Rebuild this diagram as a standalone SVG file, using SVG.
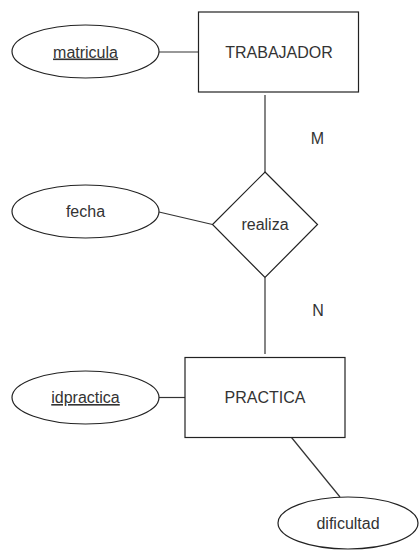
<svg xmlns="http://www.w3.org/2000/svg" width="420" height="550" viewBox="0 0 420 550">
<style>
.s{fill:#fff;stroke:#222;stroke-width:1.2}
.c{stroke:#333;stroke-width:1.2;fill:none}
text{font-family:"Liberation Sans",Arial,sans-serif;font-size:16px;fill:#333;text-anchor:middle}
.u{text-decoration:underline}
</style>
<rect width="420" height="550" fill="#fff"/>
<g id="connectors">
<line class="c" x1="159" y1="52" x2="198.5" y2="52"/>
<line class="c" x1="265" y1="95" x2="265" y2="172"/>
<line class="c" x1="159" y1="212" x2="212.5" y2="224.5"/>
<line class="c" x1="265" y1="277.5" x2="265" y2="354"/>
<line class="c" x1="159" y1="397.5" x2="185" y2="397.5"/>
<line class="c" x1="291.5" y1="437.5" x2="340" y2="497"/>
<text x="317.5" y="143.5">M</text>
<text x="318" y="316">N</text>
</g>
<g id="TRABAJADOR">
<rect class="s" x="198.5" y="12" width="160" height="80"/>
<text x="279" y="57.5">TRABAJADOR</text>
</g>
<g id="matricula">
<ellipse class="s" cx="85.5" cy="51.5" rx="73.5" ry="26.5"/>
<text class="u" x="85.5" y="57.5">matricula</text>
</g>
<g id="realiza">
<polygon class="s" points="265,172 317.5,224.5 265,277.5 212.5,224.5"/>
<text x="265" y="230">realiza</text>
</g>
<g id="fecha">
<ellipse class="s" cx="85.5" cy="211.5" rx="73.5" ry="26.5"/>
<text x="85.5" y="217">fecha</text>
</g>
<g id="PRACTICA">
<rect class="s" x="185" y="357.5" width="160" height="80"/>
<text x="265" y="403">PRACTICA</text>
</g>
<g id="idpractica">
<ellipse class="s" cx="85.5" cy="397.5" rx="73.5" ry="26.5"/>
<text class="u" x="85.5" y="403">idpractica</text>
</g>
<g id="dificultad">
<ellipse class="s" cx="348" cy="523" rx="70" ry="26"/>
<text x="348" y="528.5">dificultad</text>
</g>
</svg>
